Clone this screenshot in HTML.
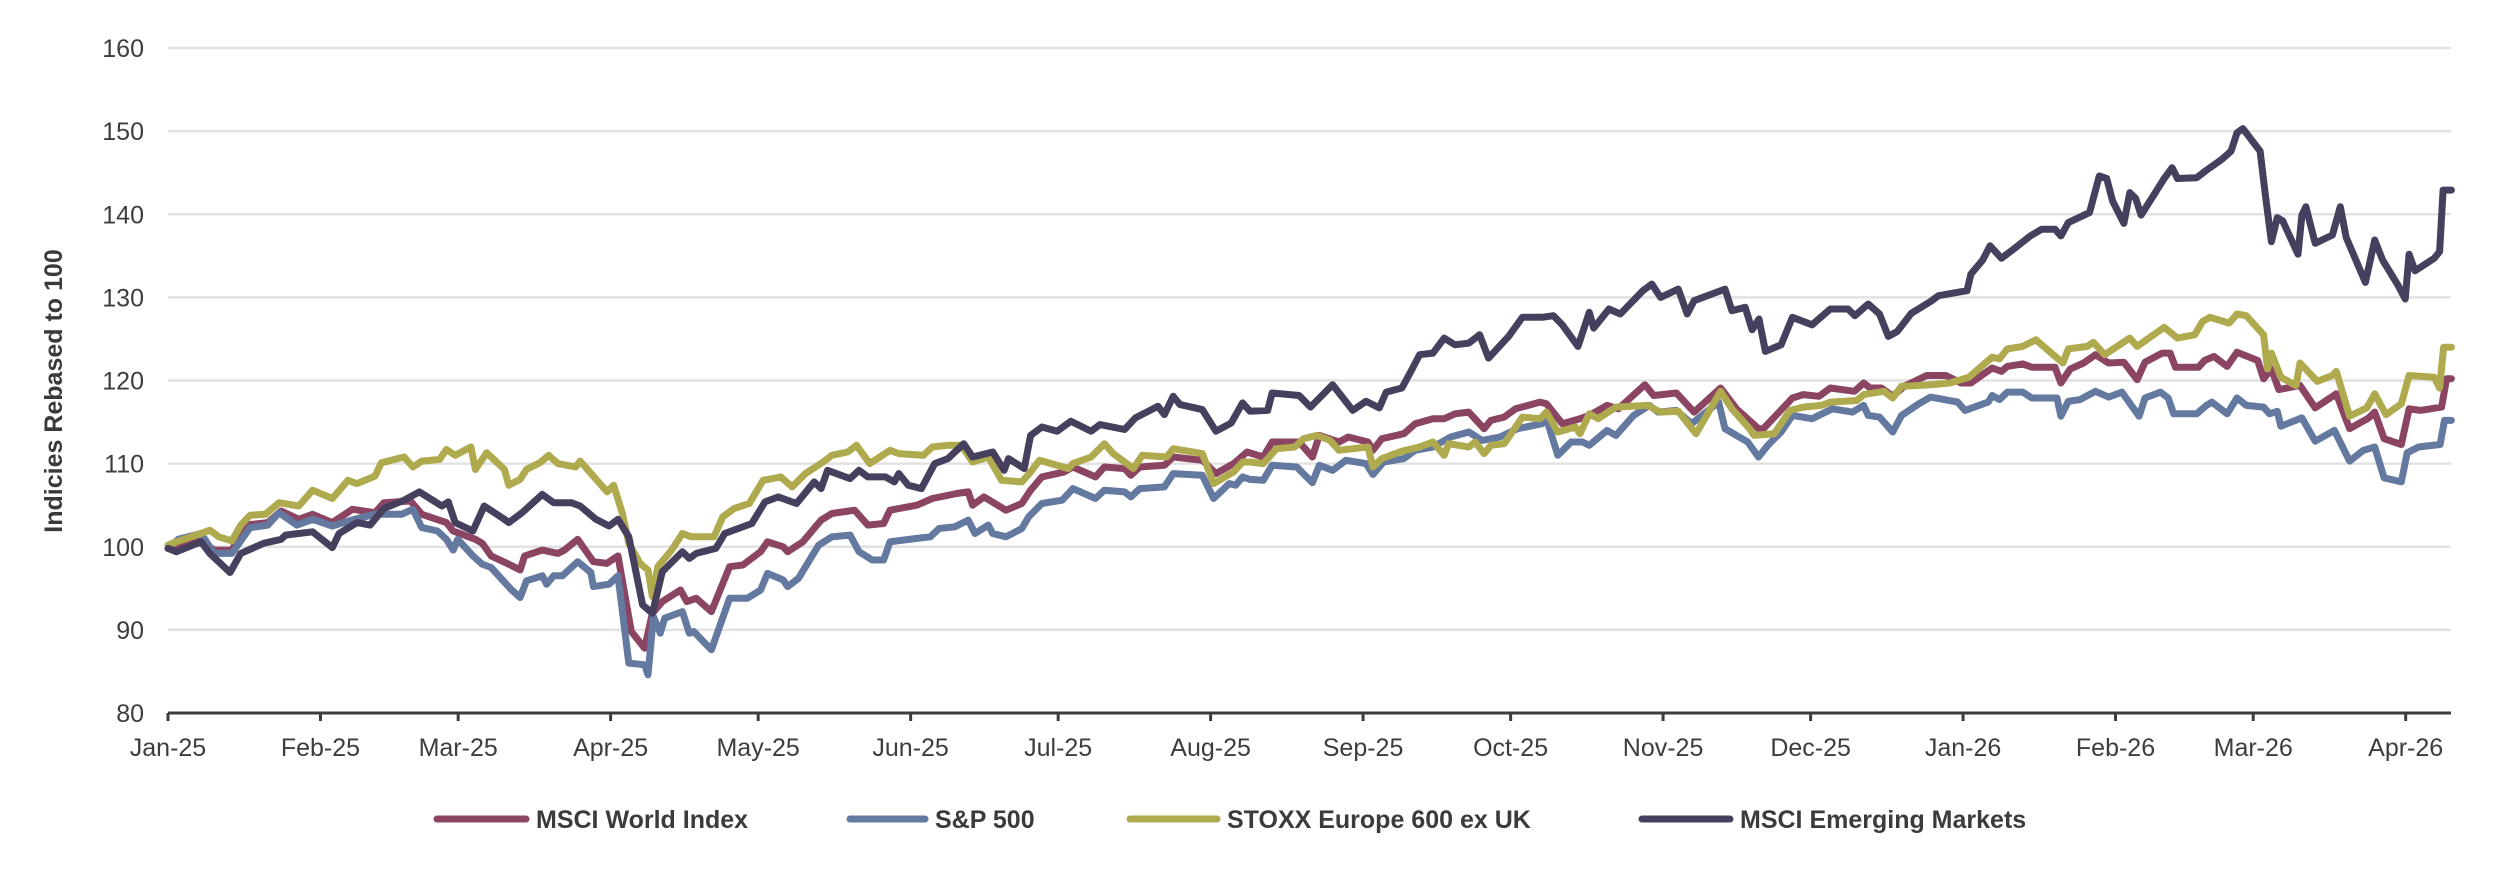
<!DOCTYPE html>
<html><head><meta charset="utf-8"><title>Indices Rebased to 100</title>
<style>
html,body{margin:0;padding:0;background:#fff;}
svg{display:block;font-family:"Liberation Sans",sans-serif;}
</style></head>
<body>
<svg id="chart" width="2500" height="876" viewBox="0 0 2500 876" xmlns="http://www.w3.org/2000/svg">
<g id="grid"></g>
<g id="yticks"></g>
<g id="xaxis"></g>
<g id="series"></g>
<text transform="translate(62,391) rotate(-90)" text-anchor="middle" font-size="25" font-weight="bold" fill="#3a3a3a">Indicies Rebased to 100</text>
<g id="legend"></g>
</svg>
<script>
// Data: day offsets from 1 Jan 2025, and index values (rebased to 100)
const yTicks = [80, 90, 100, 110, 120, 130, 140, 150, 160];
const monthLabels = ["Jan-25","Feb-25","Mar-25","Apr-25","May-25","Jun-25","Jul-25","Aug-25","Sep-25","Oct-25","Nov-25","Dec-25","Jan-26","Feb-26","Mar-26","Apr-26"];
const monthDays = [0,31,59,90,120,151,181,212,243,273,304,334,365,396,424,455];
const seriesNames = ["MSCI World Index","S&P 500","STOXX Europe 600 ex UK","MSCI Emerging Markets"];

const worldDays = [0,6.7,9.4,13,15.7,20.3,23,26.6,29.4,33.4,37.5,42.1,43.9,49.3,51.6,56.6,58,62.5,63.9,65.7,69.3,71.6,72.5,76.1,79.3,80.6,83.3,86.5,89.2,91.5,94.2,96.9,98.5,100.5,104.2,105.5,107.4,110.5,114.2,116.9,120.5,121.9,125.1,126,129.1,132.8,135,139.6,142.3,145.5,146.8,152.3,155.4,160.4,162.7,163.6,165.9,170.4,173.6,175.4,177.7,182.2,184,188.6,190.4,194.5,195.8,197.6,202.6,204.4,210.3,213.1,216.7,219.4,222.7,224.5,230,232.7,234.1,238.1,240,244,245,246.8,251.3,253.6,257.2,259.5,261.7,264.5,267.6,269,271.7,274,279,280.3,283.5,287.1,289,292.6,294.9,300.3,302.1,306.7,310.3,315.7,318.9,323.4,324.4,330.3,332.5,335.7,338,342.9,344.8,346.1,348.4,350.7,353,357.6,361.5,364.6,366.6,370.9,372.8,374,377.1,379,383.7,384.9,386.8,389.5,391.9,394.6,397.7,400.4,402,405.5,407.1,408.2,412.9,414.1,416,418.7,420.7,424.9,426.1,427.7,429.2,433.5,436.6,440.9,443.6,447.5,448.7,450.6,454.1,455.7,458,462.3,463.3,464.3];
const worldVals = [99.8,100.7,99.6,99.6,102.6,102.9,104.3,103.3,103.9,102.9,104.5,104.1,105.3,105.5,103.9,102.9,101.9,100.9,100.4,98.9,97.9,97.2,98.9,99.6,99.2,99.6,100.9,98.2,98,98.9,89.8,87.8,92,93.4,94.8,93.4,93.8,92.2,97.6,97.8,99.4,100.6,100,99.4,100.6,103.2,104,104.4,102.6,102.8,104.4,105,105.8,106.4,106.6,105,106,104.4,105.2,106.8,108.4,109,109.6,108.4,109.6,109.4,108.6,109.6,109.8,110.8,110.4,108.8,110,111.4,110.8,112.6,112.6,110.8,113.4,112.6,113.2,112.6,111.6,113,113.6,114.8,115.4,115.4,116,116.2,114.2,115.2,115.6,116.6,117.4,117.2,114.8,115.4,115.8,117,116.6,119.5,118.2,118.5,116.2,119.1,116.6,114.2,114.2,117.9,118.3,118.1,119.1,118.7,119.7,119.1,119.1,118.1,119.3,120.6,120.6,119.7,119.7,121.5,121.1,121.7,122,121.6,121.6,119.7,121.4,122.1,123.1,122.1,122.2,120.1,122.2,123.3,123.3,121.6,121.6,122.4,122.9,121.7,123.4,122.4,120.2,121.4,118.9,119.4,116.7,118.4,114.2,115.5,116.2,113,112.3,116.6,116.4,116.8,120.2,120.2];

const spDays = [0,2.1,6.7,9.4,13,16.7,20.3,22.6,26.2,29.4,33.4,37.9,42.1,47.5,49.8,51.6,54.8,56.6,58,58.9,62,63.9,65.7,69.7,71.6,72.9,76.1,77,78.4,80.2,83.3,86,86.5,89.7,91.5,93.7,96.9,97.6,98.7,100.1,101,104.6,106,106.9,110.5,114.2,117.8,120.5,121.9,125.1,126,128.2,132.3,135,138.7,140.5,143.2,145.5,146.8,152.3,155,156.8,160,162.7,164.1,166.8,167.7,170.4,173.6,175,177.7,181.8,184,188.6,190.4,194.5,195.8,197.6,202.6,204.4,210.3,212.6,215.8,217.1,218.5,220,222.7,224.5,229.5,232.7,234.1,236.8,239.5,243.6,245,247.2,251.3,253.6,257.2,260.8,264.5,267.2,270.8,274.4,279.4,280.3,282.6,285.3,287.6,289,292.6,294.4,298,301.2,303,306.7,309.8,315.3,316.6,321.2,323.4,325.3,328,330.3,334.3,338.4,342.5,344.8,345.7,348,350.7,352.5,356,358.4,363.9,365.4,370.1,370.9,372.4,374,377.1,379,384.1,384.9,386.4,388.8,391.9,394.6,397.3,400.8,402,405.1,406.7,407.8,412.5,414.5,415.6,418.7,420.7,422.6,426.1,427.3,428.9,429.6,433.9,436.6,440.5,443.6,446.4,448.7,450.6,454.1,455.3,457.6,462,462.9,464.3];
const spVals = [99.8,100.9,101.6,99.2,99.2,102.3,102.6,104.1,102.6,103.3,102.5,103.3,103.9,103.9,104.5,102.3,101.9,100.9,99.6,100.9,98.9,97.9,97.5,94.9,93.9,95.9,96.5,95.5,96.5,96.5,98.2,96.9,95.2,95.5,96.5,86,85.8,84.6,91.6,89.6,91.4,92.2,89.6,89.8,87.6,93.8,93.8,94.8,96.8,96,95.2,96.2,100.2,101.2,101.4,99.4,98.4,98.4,100.6,101,101.2,102.2,102.4,103.2,101.6,102.6,101.6,101.2,102.2,103.6,105.2,105.6,107,105.8,106.8,106.6,106,107,107.2,108.8,108.6,105.8,107.6,107.4,108.4,108.1,108,109.8,109.6,107.7,109.8,109.2,110.4,110,108.7,110.2,110.6,111.6,112,113.2,113.8,112.8,113.2,114.2,114.8,115.4,111,112.6,112.6,112.2,114,113.4,115.8,117,116.2,116.4,114.8,117.4,114.2,112.6,110.8,112.2,113.8,115.8,115.4,116.6,116.2,117,115.8,115.6,113.8,115.8,117.2,118,117.4,116.4,117.4,118.2,117.7,118.6,118.6,117.9,117.9,115.7,117.5,117.7,118.7,118,118.6,115.7,117.9,118.6,117.9,116,116,117,117.4,116,117.9,117,116.8,116,116.3,114.5,115.5,112.7,114,110.3,111.6,112,108.3,107.8,111.3,112,112.3,115.2,115.2];

const stoxxDays = [0,1.7,6.7,8.5,10.3,13,14.8,16.7,19.8,22.6,26.6,29.4,33.4,36.6,38.4,42.1,43.4,48,49.8,51.6,55.2,56.6,58.4,61.6,62.5,64.8,68.4,69.3,71.6,72.9,75.6,77.4,79.3,82.9,83.8,89.3,90.6,92.4,93.7,96,97.6,98.5,99.6,102.4,104.6,106.4,111,112.8,115.1,118.2,121,124.6,126.9,129.6,133.2,135,138.2,140,142.7,146.8,148.6,153.6,155.4,158.6,161.3,163.6,166.8,169.5,173.6,175.4,177.2,183.1,184,187.7,190.4,192.2,196.3,198.1,203.1,204.4,210.3,212.6,216.7,218.5,220,222.7,225.4,229.1,230.9,233.6,236.3,238.1,240.9,244,245,246.8,250.9,254.5,257.2,259.5,260.4,264.5,265.8,267.6,269,271.7,275.4,279,280.3,282.6,286.2,287.1,289,290.8,294.4,300.8,303.5,307.1,310.7,315.7,318,321.6,322.5,326.6,329.8,332.5,336.2,338,343.4,344.8,348.9,350.7,352.5,356,358.4,362.3,366.2,370.9,372.4,374,377.1,379.8,385.3,386.4,390.3,391.5,393.8,398.9,400.4,405.9,408.6,412.1,413.7,415.2,419.1,420.7,422.6,426.1,426.9,427.7,429.6,432.7,433.5,437,440.1,440.9,443.6,447.1,448.7,451,454.1,455.7,460.8,461.9,462.7,464.3];
const stoxxVals = [100.2,100.6,101.6,102,101.2,100.7,102.6,103.8,103.9,105.3,104.9,106.8,105.8,108,107.6,108.5,110.1,110.8,109.6,110.3,110.5,111.7,111,112,109.3,111.3,109.3,107.4,108.1,109.3,110.1,111,110,109.6,110.3,106.6,107.4,104,100.4,98,97.2,94,97.6,99.6,101.6,101.2,101.2,103.6,104.6,105.2,108,108.4,107.2,108.8,110.2,111,111.4,112.2,110,111.6,111.2,111,112,112.2,112.2,110.2,110.8,108,107.8,109,110.4,109.4,110,110.8,112.4,111.2,109.4,111,110.8,111.8,111.2,107.6,109,110.2,110.2,110,111.8,112,113,113.4,112.8,111.6,111.8,112,109.6,110.6,111.5,112,112.6,111,112.4,112,112.6,111.2,112.2,112.4,115.6,115.4,116.2,113.8,114.4,113.6,116,115.4,116.8,117,116.2,116.3,113.6,118.7,116.6,114.2,113.4,113.6,116.4,116.8,117,117.4,117.6,118.3,118.7,117.9,119.3,119.4,119.5,119.7,120.4,122.8,122.6,123.8,124.1,124.9,122.1,123.8,124.1,124.6,123.1,125.1,124.1,126.4,125.1,125.5,127.1,127.6,126.9,128,127.8,125.5,121.4,123.3,120.4,119.4,122.1,119.9,120.6,121.1,115.7,116.7,118.4,115.9,117.2,120.6,120.4,119.1,124,124];

const emDays = [0,1.7,6.7,8.5,12.6,14.8,19.4,23,23.9,29.4,33.4,34.8,38.4,41.1,43.9,48,51.1,55.7,57,58.4,62,64.3,68.4,69.3,72,76.1,78.4,82,83.8,87,89.7,91.5,93.7,96.5,98.5,100.5,104.6,106,107.4,111.4,113.2,118.7,121.4,124.1,127.8,131.4,132.8,134.1,138.7,140.5,142.3,145.9,147.7,148.6,150.5,153.2,155.9,158.6,161.8,163.6,167.7,170,170.9,174.1,175.4,177.7,180.8,183.6,187.7,189.5,194.5,196.7,201.3,202.6,204.4,205.8,210.3,213.1,216.2,218.5,220,223.6,224.5,230,232.3,236.8,240.9,243.6,246.3,247.7,250.9,253.1,254.5,257.2,259.5,261.7,264.5,266.7,268.5,272.6,275.4,279.4,281.7,283.5,286.7,289,289.9,293,295.3,299.9,301.7,303.5,307.1,308.9,310.3,316.6,318,320.7,322.1,323.5,324.8,328,330.3,334.3,338,341.6,343,345.7,348,349.8,351.6,354.5,358.4,360,365.8,366.6,369,370.5,372.8,375.5,378.7,381,383.7,384.9,386.4,390.7,392.7,394.2,395.4,397.7,398.9,400.1,401.2,405.9,407.5,408.6,412.5,414.5,417.6,419.5,420.7,421.9,425.4,426.5,427.7,428.9,430,433.1,433.9,434.7,436.6,440.1,441.7,442.9,446.8,448.7,450.3,453.4,454.9,455.7,456.9,460.8,461.9,462.6,464.3];
const emVals = [99.8,99.4,100.6,99.2,96.9,99.2,100.4,100.9,101.4,101.8,99.9,101.6,102.9,102.6,104.6,105.6,106.6,104.9,105.4,102.9,101.9,104.9,103.3,102.9,104.1,106.3,105.3,105.3,104.9,103.3,102.5,103.3,101.2,93,92,97,99.4,98.6,99.2,99.8,101.6,102.8,105.4,106,105.2,107.8,107,109.2,108.2,109.2,108.4,108.4,107.8,108.8,107.4,107,110,110.6,112.4,110.8,111.4,109.2,110.6,109.4,113.4,114.4,113.9,115.1,113.9,114.7,114.1,115.5,116.9,115.9,118.1,117.1,116.5,113.9,114.9,117.3,116.3,116.4,118.5,118.2,116.8,119.5,116.4,117.5,116.7,118.6,119.1,121.5,123.1,123.3,125.1,124.3,124.5,125.5,122.7,125.3,127.6,127.6,127.8,126.7,124.1,128.2,126.3,128.6,128,130.8,131.6,130,131,128,129.6,131,128.4,128.8,126.1,127.4,123.5,124.3,127.6,126.7,128.6,128.6,127.8,129.2,128,125.3,125.9,128.1,129.5,130.2,130.8,132.8,134.5,136.2,134.7,135.9,137.4,138.2,138.2,137.4,139,140.2,144.6,144.3,141.6,138.9,142.6,141.9,139.9,144.3,145.6,144.3,144.4,145.3,146.6,147.6,149.8,150.3,147.6,142.2,136.7,139.6,139.2,135.2,139.9,140.9,136.5,137.5,140.9,137.2,131.8,136.9,134.5,131.5,129.8,135.2,133.2,134.7,135.5,142.9,142.9];

const NS = "http://www.w3.org/2000/svg";
const X0 = 168, PX_PER_DAY = 4.918, X_END = 2451;
const Y_TOP = 48, Y_BOT = 713, V_MIN = 80, V_MAX = 160;
function xScale(d){ return X0 + d * PX_PER_DAY; }
function yScale(v){ return Y_BOT - (v - V_MIN) / (V_MAX - V_MIN) * (Y_BOT - Y_TOP); }
function mk(tag, attrs, parent){
  const el = document.createElementNS(NS, tag);
  for (const k in attrs) el.setAttribute(k, attrs[k]);
  parent.appendChild(el); return el;
}

const grid = document.getElementById('grid');
const yt = document.getElementById('yticks');
yTicks.forEach(v => {
  const y = yScale(v);
  if (v > V_MIN) {
    const g = mk('line', {x1: X0, x2: X_END, y1: y, y2: y, stroke: '#e2e2e2', 'stroke-width': 2.5}, grid);
    
    
  }
  const t = mk('text', {x: 144, y: y + 9, 'text-anchor': 'end', 'font-size': 25, fill: '#3d3d3d'}, yt);
  t.textContent = v;
  
  
});

const xa = document.getElementById('xaxis');
const axisLine = mk('line', {x1: X0, x2: X_END, y1: Y_BOT, y2: Y_BOT, stroke: '#3d3d3d', 'stroke-width': 3}, xa);


monthDays.forEach((d, i) => {
  const x = xScale(d);
  const tk = mk('line', {x1: x, x2: x, y1: Y_BOT, y2: Y_BOT + 8, stroke: '#3d3d3d', 'stroke-width': 3}, xa);
  
  
  const t = mk('text', {x: x, y: 756, 'text-anchor': 'middle', 'font-size': 25, fill: '#3d3d3d'}, xa);
  t.textContent = monthLabels[i];
  
  
});

const colors = ['#8b4563', '#6479a0', '#afaa4e', '#46405e'];
const allDays = [worldDays, spDays, stoxxDays, emDays];
const allVals = [worldVals, spVals, stoxxVals, emVals];
const keys = ['msci-world', 'sp-500', 'stoxx-europe-600', 'msci-em'];
const sg = document.getElementById('series');
allDays.forEach((days, s) => {
  const vals = allVals[s];
  const pts = days.map((d, i) => xScale(d).toFixed(1) + ',' + yScale(vals[i]).toFixed(1)).join(' ');
  const pl = mk('polyline', {points: pts, fill: 'none', stroke: colors[s], 'stroke-width': 7, 'stroke-linejoin': 'round', 'stroke-linecap': 'round'}, sg);
  
  
});

const lg = document.getElementById('legend');
const legendLineX = [437, 850, 1130, 1642];
const legendLineW = [89, 75, 87, 88];
seriesNames.forEach((name, i) => {
  const g = mk('g', {}, lg);
  
  
  const x = legendLineX[i];
  mk('line', {x1: x, x2: x + legendLineW[i], y1: 819, y2: 819, stroke: colors[i], 'stroke-width': 7, 'stroke-linecap': 'round'}, g);
  const t = mk('text', {x: x + legendLineW[i] + 10, y: 828, 'font-size': 25, 'font-weight': 'bold', fill: '#3b3b3b'}, g);
  t.textContent = name;
});
</script>
</body></html>
